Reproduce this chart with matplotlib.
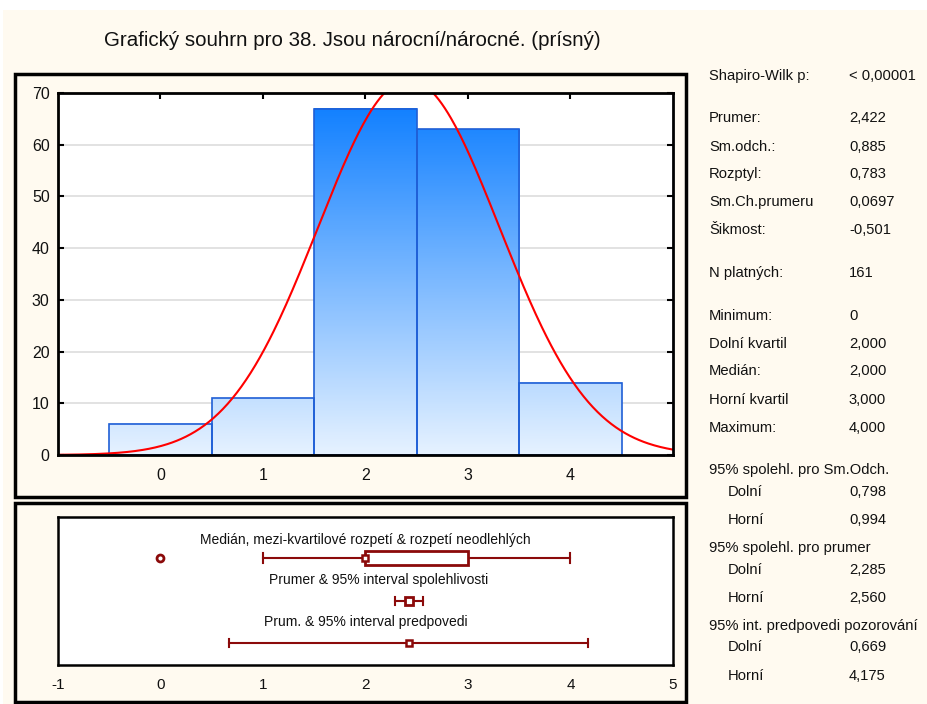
import numpy as np
import matplotlib
matplotlib.use("Agg")
import matplotlib.pyplot as plt
from matplotlib.patches import Rectangle
from matplotlib.colors import LinearSegmentedColormap

plt.rcParams['font.family'] = ['Liberation Sans', 'DejaVu Sans']
plt.rcParams['axes.unicode_minus'] = False

# ---- data ----
categories = [0, 1, 2, 3, 4]
counts = [6, 11, 67, 63, 14]
n_valid = 161
mean = 2.422
sd = 0.885
q_low, median, q_high = 2.0, 2.0, 3.0
whisker_low, whisker_high = 1.0, 4.0
outliers = [0]
ci_mean = (2.285, 2.560)
pred_int = (0.669, 4.175)

title = "Grafický souhrn pro 38. Jsou nárocní/nárocné. (prísný)"
stat_labels = ["Shapiro-Wilk p:", "Prumer:", "Sm.odch.:", "Rozptyl:", "Sm.Ch.prumeru",
               "Šikmost:", "N platných:", "Minimum:", "Dolní kvartil", "Medián:",
               "Horní kvartil", "Maximum:", "95% spolehl. pro Sm.Odch.", "Dolní", "Horní",
               "95% spolehl. pro prumer", "Dolní", "Horní",
               "95% int. predpovedi pozorování", "Dolní", "Horní"]
stat_values = ["< 0,00001", "2,422", "0,885", "0,783", "0,0697", "-0,501", "161",
               "0", "2,000", "2,000", "3,000", "4,000", "", "0,798", "0,994",
               "", "2,285", "2,560", "", "0,669", "4,175"]
stat_rows = [76, 118, 147, 174, 202, 230, 273, 316, 344, 371, 400, 428, 470, 492, 520,
             548, 570, 598, 626, 647, 676]
stat_indent = [False] * 13 + [True, True, False, True, True, False, True, True]

box_captions = ["Medián, mezi-kvartilové rozpetí & rozpetí neodlehlých",
                "Prumer & 95% interval spolehlivosti",
                "Prum. & 95% interval predpovedi"]

# ---- figure ----
W, H = 928, 704
fig = plt.figure(figsize=(W / 100, H / 100), dpi=100, facecolor='white')
cream = '#FFFAF0'
dark_red = '#8B0A0A'
text_color = '#111111'


def fx(px):
    return px / W


def fy(py):
    return 1 - py / H


def add_axes_px(left, top, right, bottom, **kw):
    return fig.add_axes([fx(left), fy(bottom), fx(right - left), (bottom - top) / H], **kw)


# page background and panel frames
fig.patches.append(Rectangle((fx(3), 0), 1, fy(10), transform=fig.transFigure,
                             facecolor=cream, edgecolor='none', zorder=-10))
for (l, t, r, b) in [(15, 74, 686, 497), (15, 503, 686, 702)]:
    fig.patches.append(Rectangle((fx(l), fy(b)), fx(r - l), (b - t) / H,
                                 transform=fig.transFigure, facecolor='none',
                                 edgecolor='black', linewidth=2.5, zorder=-5))

fig.text(fx(104), fy(40), title, fontsize=14.8, ha='left', va='center', color=text_color)

# ---- histogram ----
ax = add_axes_px(58, 93, 673, 455)
ax.set_facecolor('white')
ymax = 70
cmap = LinearSegmentedColormap.from_list('bars', ['#E6F2FF', '#0A7CFF'])
for c, h in zip(categories, counts):
    grad = np.linspace(0, h / ymax, 200).reshape(-1, 1)
    ax.imshow(grad, cmap=cmap, vmin=0, vmax=1, origin='lower', aspect='auto',
              extent=[c - 0.5, c + 0.5, 0, h], zorder=2, interpolation='bilinear')
ax.bar(categories, counts, width=1.0, facecolor='none', edgecolor='#1F5FD6',
       linewidth=1.2, zorder=3)
ax.set_xlim(-1, 5)
ax.set_ylim(0, ymax)

xs = np.linspace(-1, 5, 400)
pdf = n_valid * 1.0 / (sd * np.sqrt(2 * np.pi)) * np.exp(-0.5 * ((xs - mean) / sd) ** 2)
ax.plot(xs, pdf, color='#FF0000', linewidth=1.5, zorder=4)

ax.set_yticks(range(0, 71, 10))
ax.set_xticks(categories)
ax.yaxis.grid(True, color='#DDDDDD', linewidth=1.2, zorder=0)
ax.set_axisbelow(True)
ax.tick_params(axis='x', direction='in', top=True, bottom=True, length=4, width=1.5,
               pad=9, labelsize=11.5, labelcolor=text_color)
ax.tick_params(axis='y', direction='in', left=True, right=True, length=4, width=1.5,
               pad=6, labelsize=11.5, labelcolor=text_color)
for s in ax.spines.values():
    s.set_linewidth(2)
    s.set_zorder(5)

# ---- box / interval panel ----
bx = add_axes_px(58, 517, 673, 665)
bx.set_facecolor('white')
bx.set_xlim(-1, 5)
bx.set_ylim(0, 1)
bx.set_yticks([])
bx.set_xticks(range(-1, 6))
bx.tick_params(axis='x', length=0, pad=9.5, labelsize=11, labelcolor=text_color)
for s in bx.spines.values():
    s.set_linewidth(1.8)

cap_kw = dict(fontsize=10, ha='center', va='center', color=text_color)
bx.text(2.0, 0.845, box_captions[0], **cap_kw)
bx.text(2.13, 0.574, box_captions[1], **cap_kw)
bx.text(2.0, 0.29, box_captions[2], **cap_kw)

# median / quartiles / whiskers
yb = 0.723
bx.plot([whisker_low, q_low], [yb, yb], color=dark_red, lw=1.5)
bx.plot([q_high, whisker_high], [yb, yb], color=dark_red, lw=1.5)
for w in (whisker_low, whisker_high):
    bx.plot([w, w], [yb - 0.035, yb + 0.035], color=dark_red, lw=1.5)
bx.add_patch(Rectangle((q_low, yb - 0.05), q_high - q_low, 0.1, facecolor='white',
                       edgecolor=dark_red, linewidth=2, zorder=3))
bx.plot([median], [yb], marker='s', markersize=5, markerfacecolor='white',
        markeredgecolor=dark_red, markeredgewidth=1.8, zorder=4)
bx.plot(outliers, [yb] * len(outliers), marker='o', linestyle='none', markersize=5,
        markerfacecolor='white', markeredgecolor=dark_red, markeredgewidth=2)

# mean with confidence interval
yc = 0.432
bx.plot(list(ci_mean), [yc, yc], color=dark_red, lw=1.5)
for w in ci_mean:
    bx.plot([w, w], [yc - 0.025, yc + 0.025], color=dark_red, lw=1.5)
bx.plot([mean], [yc], marker='s', markersize=6, markerfacecolor='white',
        markeredgecolor=dark_red, markeredgewidth=2, zorder=4)

# mean with prediction interval
yp = 0.149
bx.plot(list(pred_int), [yp, yp], color=dark_red, lw=1.5)
for w in pred_int:
    bx.plot([w, w], [yp - 0.03, yp + 0.03], color=dark_red, lw=1.5)
bx.plot([mean], [yp], marker='s', markersize=5, markerfacecolor='white',
        markeredgecolor=dark_red, markeredgewidth=1.8, zorder=4)

# ---- statistics table ----
for lab, val, row, ind in zip(stat_labels, stat_values, stat_rows, stat_indent):
    fig.text(fx(728 if ind else 709), fy(row), lab, fontsize=10.6, ha='left',
             va='center', color=text_color)
    if val:
        fig.text(fx(849), fy(row), val, fontsize=10.6, ha='left', va='center',
                 color=text_color)

fig.savefig('out.png', dpi=100, facecolor=fig.get_facecolor())
